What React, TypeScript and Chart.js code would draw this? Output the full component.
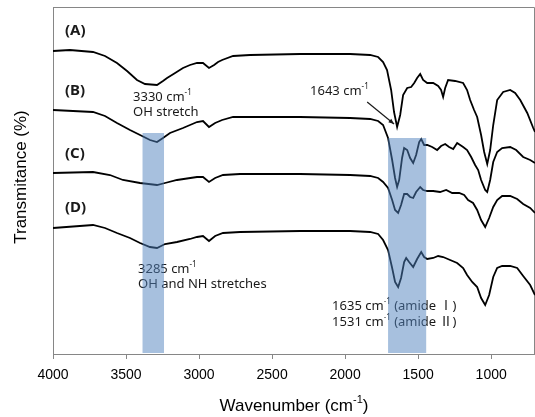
import React, { useEffect, useRef } from 'react';
import { Chart, registerables } from 'chart.js';

Chart.register(...registerables);

// x tick labels (wavenumber, cm-1)
const xTicks = [4000, 3500, 3000, 2500, 2000, 1500, 1000];

// Spectrum (A)
const waveA = [4000,3884,3726,3644,3562,3493,3425,3370,3288,3247,3219,3164,3110,3062,3014,2973,2932,2897,2870,2842,2767,2651,2308,1966,1829,1774,1740,1713,1685,1665,1644,1623,1603,1575,1548,1527,1507,1486,1466,1438,1397,1363,1343,1329,1315,1295,1247,1192,1165,1144,1117,1096,1069,1048,1027,1007,986,959,918,870,836,801,753,712,700];
const transA = [303,304,302,298,291,283,274,270,269,273,276,281,286,289,291,291,286,289,292,294,298,299,300,300,299,297,292,284,264,242,227,239,259,266,267,271,276,280,274,271,271,268,264,257,266,274,273,271,264,254,244,237,219,202,190,204,229,254,262,264,261,254,241,226,222];

// Spectrum (B)
const waveB = [4000,3726,3644,3562,3473,3404,3336,3288,3247,3199,3110,3014,2973,2932,2890,2842,2767,2582,2308,1966,1829,1774,1740,1706,1678,1658,1644,1630,1610,1596,1575,1555,1534,1514,1493,1479,1459,1438,1404,1370,1343,1315,1288,1260,1233,1192,1165,1137,1110,1089,1069,1041,1027,1007,986,959,925,870,829,781,733,700];
const transB = [244,242,238,231,224,219,214,212,216,221,226,232,233,227,231,234,237,237,237,236,235,233,229,216,194,176,167,174,196,206,204,196,191,199,212,215,209,209,207,204,208,210,207,205,211,207,204,197,189,184,174,164,162,174,192,202,206,207,204,197,194,191];

// Spectrum (C)
const waveC = [4000,3726,3610,3521,3404,3288,3233,3151,3014,2973,2932,2890,2836,2719,2308,1966,1829,1774,1740,1706,1678,1658,1637,1617,1596,1575,1555,1534,1514,1486,1466,1438,1397,1350,1308,1267,1219,1185,1158,1124,1096,1069,1041,1014,986,959,925,870,822,781,733,700];
const transC = [181,182,179,174,171,169,171,174,177,177,172,176,179,180,180,179,178,176,172,166,154,144,141,149,160,160,157,156,162,167,164,163,163,162,164,161,161,159,154,151,144,134,127,136,147,154,158,158,155,150,146,141];

// Spectrum (D)
const waveD = [4000,3726,3644,3562,3473,3404,3336,3288,3233,3151,3062,3014,2973,2932,2890,2836,2719,2308,1966,1829,1774,1740,1706,1678,1658,1637,1617,1596,1582,1562,1534,1507,1479,1459,1438,1397,1363,1329,1281,1233,1192,1165,1130,1096,1069,1041,1014,986,959,925,870,822,781,733,700];
const transD = [126,129,126,121,116,111,107,106,110,112,115,117,118,113,118,121,122,123,123,122,120,114,104,86,72,67,76,92,96,92,87,95,102,97,95,96,98,97,94,91,86,79,72,67,56,49,59,77,86,88,88,86,78,69,59];

// Highlighted bands: [from, to, top] in wavenumber / transmittance units
const bandOH = [3387, 3240, 221];
const bandAmide = [1706, 1445, 216];

const seriesLabels = ['(A)', '(B)', '(C)', '(D)'];
const seriesLabelLevels = [323, 263, 200, 146];

const toPoints = (w: number[], t: number[]) => w.map((x, i) => ({ x, y: t[i] }));

type Part = { t: string; sup?: boolean };

function drawRich(ctx: CanvasRenderingContext2D, x: number, y: number, parts: Part[], size: number, family: string, weight = 'normal', align: 'left' | 'center' = 'left') {
  const widths = parts.map((p) => {
    ctx.font = `${weight} ${p.sup ? Math.round(size * 0.62) : size}px ${family}`;
    return ctx.measureText(p.t).width;
  });
  const total = widths.reduce((a, b) => a + b, 0);
  let cx = align === 'center' ? x - total / 2 : x;
  ctx.textAlign = 'left';
  ctx.textBaseline = 'middle';
  parts.forEach((p, i) => {
    ctx.font = `${weight} ${p.sup ? Math.round(size * 0.62) : size}px ${family}`;
    ctx.fillText(p.t, cx, p.sup ? y - size * 0.33 : y);
    cx += widths[i];
  });
}

const ANN_FONT = '"Noto Sans", "Noto Sans CJK KR", sans-serif';
const AXIS_FONT = '"Liberation Sans", Arial, sans-serif';

const overlayPlugin = {
  id: 'overlay',
  beforeDatasetsDraw(chart: any) {
    const { ctx, chartArea } = chart;
    ctx.save();
    ctx.strokeStyle = '#868686';
    ctx.lineWidth = 1;
    ctx.beginPath();
    ctx.moveTo(chartArea.left, chartArea.top + 0.5);
    ctx.lineTo(chartArea.right - 0.5, chartArea.top + 0.5);
    ctx.lineTo(chartArea.right - 0.5, chartArea.bottom);
    ctx.stroke();
    ctx.restore();
  },
  afterDatasetsDraw(chart: any) {
    const { ctx, chartArea, scales } = chart;
    const X = (v: number) => scales.x.getPixelForValue(v);
    const Y = (v: number) => scales.y.getPixelForValue(v);
    ctx.save();
    ctx.fillStyle = '#1a1a1a';
    // series labels
    seriesLabels.forEach((s, i) => {
      drawRich(ctx, X(3918), Y(seriesLabelLevels[i]), [{ t: s }], 15, ANN_FONT, 'bold');
    });
    // annotations
    drawRich(ctx, X(3452), Y(257), [{ t: '3330 cm' }, { t: '-1', sup: true }], 13, ANN_FONT);
    drawRich(ctx, X(3452), Y(242), [{ t: 'OH stretch' }], 13, ANN_FONT);
    drawRich(ctx, X(2240), Y(263), [{ t: '1643 cm' }, { t: '-1', sup: true }], 13, ANN_FONT);
    drawRich(ctx, X(3418), Y(85), [{ t: '3285 cm' }, { t: '-1', sup: true }], 13, ANN_FONT);
    drawRich(ctx, X(3418), Y(70), [{ t: 'OH and NH stretches' }], 13, ANN_FONT);
    drawRich(ctx, X(2089), Y(48), [{ t: '1635 cm' }, { t: '-1', sup: true }, { t: ' (amide Ⅰ)' }], 13, ANN_FONT);
    drawRich(ctx, X(2089), Y(32), [{ t: '1531 cm' }, { t: '-1', sup: true }, { t: ' (amide Ⅱ)' }], 13, ANN_FONT);

    // arrow to 1643 band
    const x1 = X(1849), y1 = Y(252), x2 = X(1665), y2 = Y(230);
    ctx.strokeStyle = '#1a1a1a';
    ctx.lineWidth = 1.2;
    ctx.beginPath();
    ctx.moveTo(x1, y1);
    ctx.lineTo(x2, y2);
    ctx.stroke();
    const ang = Math.atan2(y2 - y1, x2 - x1);
    ctx.beginPath();
    ctx.moveTo(x2, y2);
    ctx.lineTo(x2 - 6 * Math.cos(ang - 0.4), y2 - 6 * Math.sin(ang - 0.4));
    ctx.lineTo(x2 - 6 * Math.cos(ang + 0.4), y2 - 6 * Math.sin(ang + 0.4));
    ctx.closePath();
    ctx.fillStyle = '#1a1a1a';
    ctx.fill();

    // translucent bands on top
    ctx.fillStyle = 'rgba(79,129,189,0.5)';
    [bandOH, bandAmide].forEach(([a, b, top]) => {
      const xa = X(a), xb = X(b);
      ctx.fillRect(xa, Y(top), xb - xa, chartArea.bottom - 1 - Y(top));
    });

    // axis titles
    ctx.fillStyle = '#000';
    drawRich(ctx, (chartArea.left + chartArea.right) / 2, 406, [{ t: 'Wavenumber (cm' }, { t: '-1', sup: true }, { t: ')' }], 17, AXIS_FONT, 'normal', 'center');
    ctx.save();
    ctx.translate(21, 177);
    ctx.rotate(-Math.PI / 2);
    drawRich(ctx, 0, 0, [{ t: 'Transmitance (%)' }], 17, AXIS_FONT, 'normal', 'center');
    ctx.restore();
    ctx.restore();
  },
};

export default function App() {
  const ref = useRef<HTMLCanvasElement>(null);
  useEffect(() => {
    if (!ref.current) return;
    const line = (w: number[], t: number[]) => ({
      data: toPoints(w, t),
      borderColor: '#000',
      borderWidth: 1.8,
      pointRadius: 0,
      tension: 0,
      fill: false,
    });
    const chart = new Chart(ref.current, {
      type: 'line',
      data: {
        datasets: [line(waveA, transA), line(waveB, transB), line(waveC, transC), line(waveD, transD)],
      },
      options: {
        responsive: false,
        animation: false,
        parsing: false as any,
        layout: { padding: { top: 7, right: 0, left: 0, bottom: 0 } },
        plugins: { legend: { display: false }, tooltip: { enabled: false } },
        scales: {
          x: {
            type: 'linear',
            reverse: true,
            min: 700,
            max: 4000,
            afterBuildTicks: (scale: any) => {
              scale.ticks = xTicks.map((v) => ({ value: v }));
            },
            afterFit: (scale: any) => {
              scale.height = 63;
            },
            ticks: {
              color: '#000',
              font: { size: 14, family: AXIS_FONT },
              padding: 8,
              maxRotation: 0,
              autoSkip: false,
              callback: (v: any) => String(v),
            },
            grid: { display: true, drawOnChartArea: false, drawTicks: true, tickLength: 5, color: '#868686' },
            border: { display: true, color: '#868686' },
          },
          y: {
            type: 'linear',
            min: 0,
            max: 347,
            afterFit: (scale: any) => {
              scale.width = 53;
            },
            ticks: { display: false },
            grid: { display: false, drawTicks: false },
            border: { display: true, color: '#868686' },
          },
        },
      },
      plugins: [overlayPlugin],
    });
    return () => chart.destroy();
  }, []);
  return (
    <div style={{ position: 'fixed', left: 0, top: 0, width: 535, height: 417, background: '#fff' }}>
      <canvas ref={ref} width={535} height={417} style={{ display: 'block' }} />
    </div>
  );
}
